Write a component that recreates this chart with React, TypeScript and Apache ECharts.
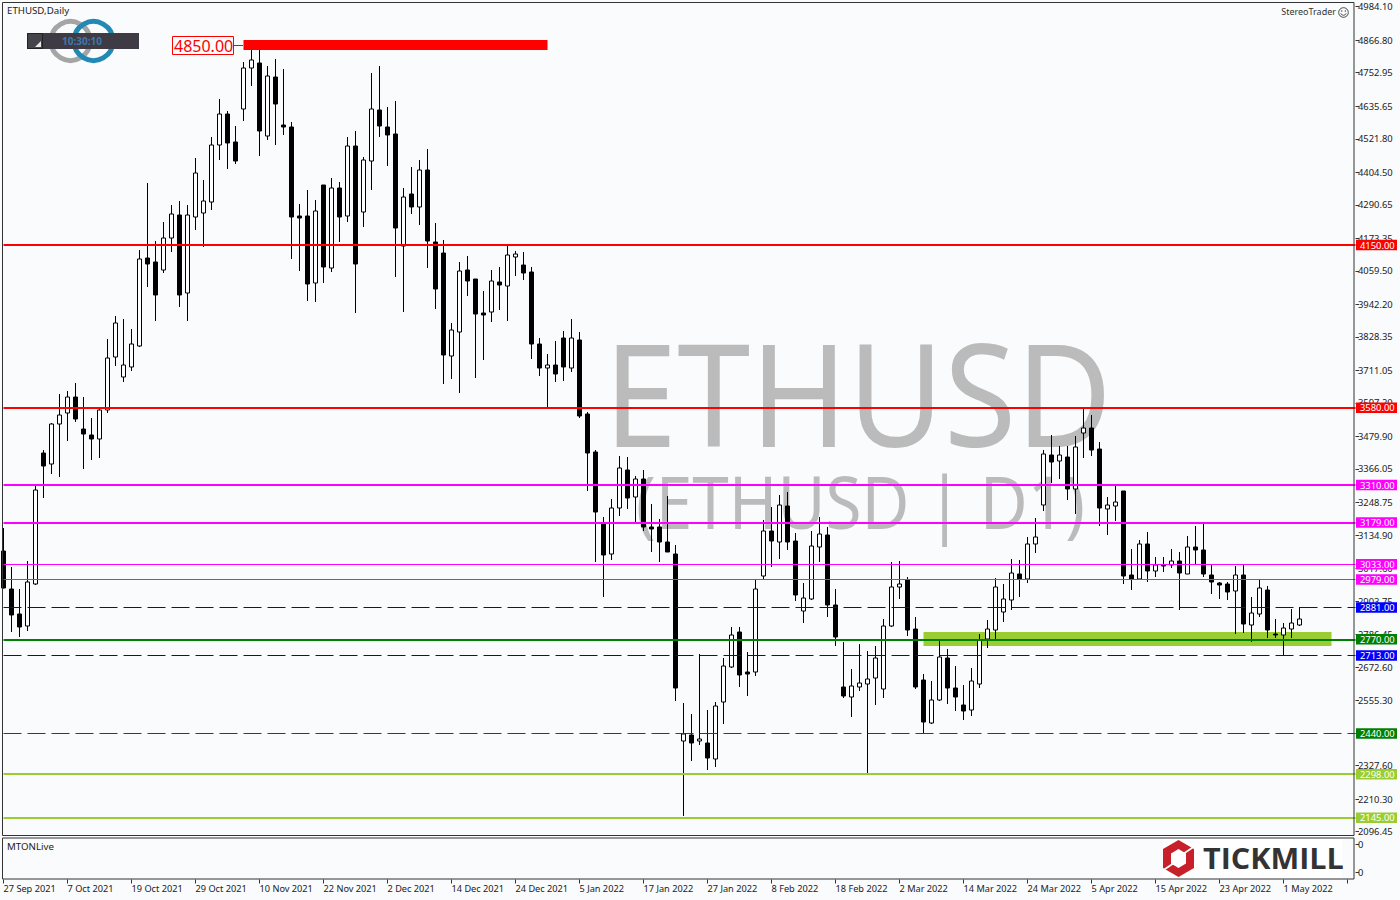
import React, { useEffect, useRef } from "react";
import * as echarts from "echarts";

const opens = [3079,2946,2858.5,2816.5,2963.5,3422,3383.5,3523.5,3562,3618,
3506,3485,3471,3572.5,3758,3688,3723,3796.5,4104.5,4090.5,
4062.5,4174.5,4255,3982,4248,4262,4300.5,4500,4608.5,4510.5,
4626,4769.5,4787,4531.5,4738,4570,4563,4251.5,4251.5,4017,
4360,4069.5,4349.5,4251.5,4496.5,4265.5,4444,4622.5,4563,4538.5,
4146.5,4328.5,4283,4412.5,4160.5,4122,3761.5,3845.5,4062.5,4031,
3912,3915.5,4020.5,4006.5,4108,4080,4055.5,3803.5,3719.5,3730,
3824.5,3719.5,3817.5,3558.5,3425.5,3177,3068.5,3229.5,3362.5,3268,
3331,3163,3163,3110.5,3068.5,2414,2435,2414,2407,2351,
2550.5,2673,2795.5,2655.5,2655.5,2991.5,3149,3110.5,3236.5,3114,
2869,2911,3093,3135,2890,2603,2568,2603,2613.5,2634.5,
2596,2816.5,2953,2977.5,2806,2627.5,2477,2557.5,2704.5,2599.5,
2540,2522.5,2613.5,2771,2802.5,2865.5,2907.5,2998.5,2981,3103.5,
3240,3415,3394,3408,3296,3492,3509.5,3436,3226,3236.5,
3289,2995,2981,3103.5,3009,3030,3030,3044,2998.5,3093,
3082.5,2995,2967,2963.5,2939,2995,2820,2858.5,2942.5,2788.5,
2785,2806,2820];

const closes = [2949.5,2855,2813,2970.5,3292.5,3376.5,3523.5,3555,3618,3541,
3488.5,3471,3572.5,3754.5,3877,3730,3803.5,4101,4083.5,3975,
4174.5,4258.5,3975,4255,4402,4304,4500,4608.5,4507,4444,
4769.5,4797.5,4549,4741.5,4643.5,4563,4248,4244.5,4013.5,4269,
4073,4349.5,4248,4496.5,4083.5,4447.5,4626,4566.5,4535,4209.5,
4318,4283,4412.5,4164,3996,3765,3852.5,4059,4024,3908.5,
3905,4024,4010,4115,4118.5,4052,3803.5,3719.5,3730,3698.5,
3723,3824.5,3551.5,3422,3215.5,3065,3229.5,3369.5,3264.5,3331,
3163,3156,3110.5,3075.5,2599.5,2438.5,2407,2421,2354.5,2536.5,
2676.5,2785,2645,2648.5,2946,3149,3114,3240,3110.5,2925,
2914.5,3096.5,3138.5,2890,2778,2571.5,2606.5,2617,2631,2704.5,
2816.5,2953,2963.5,2802.5,2603,2480.5,2557.5,2708,2599.5,2568,
2519,2624,2767.5,2806,2953,2911,3002,2981,3103.5,3128,
3418.5,3390.5,3415,3296,3443,3509.5,3432.5,3229.5,3240,3250.5,
2991.5,2981,3103.5,3009,3030,3026.5,3044,3002,3093,3082.5,
2998.5,2970.5,2960,2935.5,2995,2823.5,2862,2949.5,2802.5,2785,
2809.5,2827,2841];

const highs = [3159.5,3023,2946,3044,3306.5,3432.5,3527,3628.5,3639,3667,
3618,3544.5,3579.5,3821,3901.5,3891,3856,4132.5,4367,4164,
4230.5,4290,4304,4290,4454.5,4377.5,4528,4661,4619,4566.5,
4790.5,4832.5,4832.5,4776.5,4801,4766,4580.5,4293.5,4342.5,4307.5,
4360,4384.5,4370.5,4528,4549,4458,4752,4776.5,4633,4654,
4349.5,4423,4447.5,4486,4227,4167.5,3877,4090.5,4111.5,4031,
3989,4062.5,4073,4150,4129,4125.5,4073,3824.5,3768.5,3814,
3849,3891,3845.5,3565.5,3432.5,3198,3261,3411.5,3408,3341.5,
3362.5,3243.5,3191,3271.5,3100,2547,2508.5,2718.5,2522.5,2550.5,
2704.5,2813,2813,2725.5,2977.5,3187.5,3233,3275,3285.5,3142,
2967,3149,3198,3163,2946,2760,2666,2753,2729,2746.5,
2841,3040.5,3044,2988,2848,2648.5,2624,2767.5,2736,2676.5,
2610,2669.5,2788.5,2837.5,2984.5,2963.5,3051,3047.5,3128,3194.5,
3432.5,3485,3446.5,3446.5,3481.5,3576,3555,3460.5,3268,3306.5,
3289,3086,3117.5,3145.5,3058,3058,3086,3075.5,3131.5,3166.5,
3177,3030,2970.5,2970.5,3026.5,3030,2918,2977.5,2956.5,2841,
2827,2876,2883];

const lows = [2948,2795.5,2778,2799,2960,3264.5,3348.5,3338,3464,3530.5,
3366,3397.5,3404.5,3562,3726.5,3670.5,3709,3793,4003,3884,
4052,4125.5,3933,3884,4202.5,4143,4272.5,4447.5,4416,4433.5,
4584,4706.5,4461.5,4517.5,4500,4535,4101,4059,3954,3950.5,
4017,4055.5,4160.5,4230.5,3912,4213,4342.5,4528,4426.5,4038,
3915.5,4258.5,4220,4069.5,3926,3663.5,3681,3632,3971.5,3684.5,
3747.5,3880.5,3922.5,3884,4041.5,4027.5,3751,3691.5,3579.5,3670.5,
3674,3705.5,3544.5,3289,3040.5,2918,3047.5,3201.5,3226,3180.5,
3149,3075.5,3040.5,3075.5,2554,2151.5,2344,2400,2312.5,2323,
2473.5,2669.5,2603,2571.5,2641.5,2981,3023,3051,3082.5,2904,
2827,2907.5,3040.5,2848,2746.5,2564.5,2498,2589,2302,2540,
2564.5,2813,2911,2781.5,2596,2442,2473.5,2554,2543.5,2519,
2487.5,2501.5,2599.5,2739.5,2764,2830.5,2872.5,2918,2967,3072,
3219,3317,3331,3257.5,3208.5,3404.5,3411.5,3166.5,3135,3184,
2963.5,2942.5,2981,2970.5,2988,3005.5,3019.5,2872.5,2998.5,3033,
2988,2928.5,2911,2907.5,2788.5,2792,2760.5,2848,2774.5,2774.5,
2715,2774.5,2816.5];

const priceTicks = [4984.10,4866.80,4752.95,4635.65,4521.80,4404.50,4290.65,4173.35,4059.50,3942.20,3828.35,3711.05,3597.20,3479.90,3366.05,3248.75,3134.90,3017.60,2903.75,2786.45,2672.60,2555.30,2441.45,2327.60,2210.30,2096.45];

const dateTicks = ["27 Sep 2021","7 Oct 2021","19 Oct 2021","29 Oct 2021","10 Nov 2021","22 Nov 2021","2 Dec 2021","14 Dec 2021","24 Dec 2021","5 Jan 2022","17 Jan 2022","27 Jan 2022","8 Feb 2022","18 Feb 2022","2 Mar 2022","14 Mar 2022","24 Mar 2022","5 Apr 2022","15 Apr 2022","23 Apr 2022","1 May 2022"];

const FONT = '"Noto Sans", sans-serif';
const MAGENTA = "#ff00ff";
const LIME = "#9acd32";
const levels = [
  { v: 4150, c: "#ff0000", w: 2, d: "solid", t: "#ff0000" },
  { v: 3580, c: "#ff0000", w: 2, d: "solid", t: "#ff0000" },
  { v: 3310, c: MAGENTA, w: 2, d: "solid", t: MAGENTA },
  { v: 3179, c: MAGENTA, w: 2, d: "solid", t: MAGENTA },
  { v: 3033, c: MAGENTA, w: 1, d: "solid", t: MAGENTA },
  { v: 2979, c: MAGENTA, w: 1, d: "solid", t: MAGENTA },
  { v: 2881, c: "#0000e6", w: 1, d: [18, 6], t: "#0000ff" },
  { v: 2770, c: "#008000", w: 2, d: "solid", t: "#008000" },
  { v: 2713, c: "#0000e6", w: 1, d: [18, 6], t: "#0000ff" },
  { v: 2440, c: "#006400", w: 1, d: [18, 6], t: "#008000" },
  { v: 2298, c: LIME, w: 2, d: "solid", t: LIME },
  { v: 2145, c: LIME, w: 2, d: "solid", t: LIME },
];
const zones = [
  { x0: 30, x1: 68, top: 4867.5, bottom: 4832.5, color: "#ff0000" },
  { x0: 115, x1: 166, top: 2795.5, bottom: 2746.5, color: LIME },
];

const SLOT_COUNT = 170;
const categories = Array.from({ length: SLOT_COUNT }, (_, i) =>
  i % 8 === 0 ? dateTicks[i / 8] ?? "" : ""
);
const candles = opens.map((o, i) => [o, closes[i], lows[i], highs[i]]);

const text = (x: number, y: number, t: string, extra: any = {}, z = 12) => ({
  type: "text",
  x,
  y,
  z,
  silent: true,
  style: { text: t, font: `10px ${FONT}`, fill: "#222", textVerticalAlign: "middle", ...extra },
});

export default function App() {
  const ref = useRef<HTMLDivElement>(null);
  useEffect(() => {
    const chart = echarts.init(ref.current!, undefined, { renderer: "svg" });
    chart.setOption({
      animation: false,
      backgroundColor: "#f9fbfd",
      grid: [
        { left: 3.5, top: 2, width: 1352, height: 833 },
        { left: 3.5, top: 838, width: 1352, height: 41.5 },
      ],
      xAxis: [
        { type: "category", gridIndex: 0, data: categories, boundaryGap: false, axisLine: { show: false }, axisTick: { show: false }, axisLabel: { show: false }, splitLine: { show: false } },
        {
          type: "category", gridIndex: 1, data: categories, boundaryGap: false, position: "bottom",
          axisLine: { show: false },
          axisTick: { show: true, interval: 7, length: 4, lineStyle: { color: "#333" } },
          axisLabel: { show: true, interval: 7, align: "left", margin: 4, color: "#222", fontFamily: FONT, fontSize: 9.2 },
          splitLine: { show: false },
        },
      ],
      yAxis: [
        {
          type: "value", gridIndex: 0, position: "right", min: 2085, max: 5000.5, scale: true,
          splitLine: { show: false }, axisLine: { show: false },
          axisTick: { show: true, length: 3.5, customValues: priceTicks, lineStyle: { color: "#333" } },
          axisLabel: { show: true, margin: 2.5, customValues: priceTicks, color: "#222", fontFamily: FONT, fontSize: 9.4, formatter: (v: number) => v.toFixed(2) },
        },
        {
          type: "value", gridIndex: 1, position: "right", min: 0, max: 41.5,
          splitLine: { show: false }, axisLine: { show: false },
          axisTick: { show: true, length: 3.5, customValues: [35, 7.5], lineStyle: { color: "#333" } },
          axisLabel: { show: true, margin: 2.5, customValues: [35, 7.5], color: "#222", fontFamily: FONT, fontSize: 9.4, formatter: () => "0" },
        },
      ],
      series: [
        {
          type: "candlestick",
          xAxisIndex: 0,
          yAxisIndex: 0,
          data: candles,
          barWidth: 5,
          itemStyle: { color: "#ffffff", color0: "#000000", borderColor: "#000000", borderColor0: "#000000", borderWidth: 1 },
          markArea: {
            silent: true,
            data: zones.map((z) => [
              { xAxis: z.x0, yAxis: z.top, itemStyle: { color: z.color, opacity: 1 } },
              { xAxis: z.x1, yAxis: z.bottom },
            ]),
          },
          markLine: {
            silent: true,
            symbol: "none",
            precision: 2,
            data: levels.map((l) => ({
              yAxis: l.v,
              lineStyle: { color: l.c, width: l.w, type: l.d, opacity: 1 },
              label: {
                show: true,
                position: "end",
                distance: 0.5,
                formatter: () => l.v.toFixed(2),
                backgroundColor: l.t,
                color: "#ffffff",
                fontFamily: FONT,
                fontSize: 9.4,
                width: 35,
                height: 10.5,
                lineHeight: 10.5,
                padding: [0, 2, 0, 4],
              },
            })),
          },
        },
      ],
      graphic: {
        elements: [
          // watermark, behind the candles
          { type: "text", x: 604, y: 320, z: 0, scaleX: 0.92, silent: true, style: { text: "ETHUSD", font: `143px ${FONT}`, fill: "#bbbbbb" } },
          { type: "text", x: 636, y: 464, z: 0, scaleX: 0.9, silent: true, style: { text: "(ETHUSD | D1)", font: `73px ${FONT}`, fill: "#bbbbbb" } },

          // panel frames
          { type: "rect", z: 9, silent: true, shape: { x: 2.5, y: 2.5, width: 1351.5, height: 833 }, style: { fill: "none", stroke: "#333", lineWidth: 1 } },
          { type: "rect", z: 9, silent: true, shape: { x: 2.5, y: 838, width: 1351.5, height: 41 }, style: { fill: "none", stroke: "#333", lineWidth: 1 } },

          text(7, 10.5, "ETHUSD,Daily", { font: `9.7px ${FONT}` }),
          text(7, 846, "MTONLive", { font: `9.7px ${FONT}` }),
          text(1336, 11.5, "StereoTrader", { font: `9px ${FONT}`, textAlign: "right", fill: "#333" }),

          // smiley
          { type: "circle", z: 12, silent: true, shape: { cx: 1343.5, cy: 12.5, r: 4.8 }, style: { fill: "none", stroke: "#444", lineWidth: 1 } },
          { type: "circle", z: 12, silent: true, shape: { cx: 1341.7, cy: 11, r: 0.7 }, style: { fill: "#444" } },
          { type: "circle", z: 12, silent: true, shape: { cx: 1345.3, cy: 11, r: 0.7 }, style: { fill: "#444" } },
          { type: "arc", z: 12, silent: true, shape: { cx: 1343.5, cy: 12.5, r: 2.8, startAngle: 0.3, endAngle: Math.PI - 0.3 }, style: { fill: "none", stroke: "#444", lineWidth: 0.9 } },

          // timer widget
          { type: "circle", z: 10, silent: true, shape: { cx: 70.5, cy: 41, r: 19.5 }, style: { fill: "none", stroke: "#a5a5a5", lineWidth: 5 } },
          { type: "circle", z: 10, silent: true, shape: { cx: 93.5, cy: 41, r: 19.5 }, style: { fill: "none", stroke: "#2289b4", lineWidth: 5 } },
          { type: "rect", z: 11, silent: true, shape: { x: 27, y: 33, width: 112, height: 16 }, style: { fill: "#3e3b44" } },
          { type: "rect", z: 11, silent: true, shape: { x: 27.5, y: 33.5, width: 15, height: 15 }, style: { fill: "#46444b", stroke: "#222", lineWidth: 1 } },
          { type: "polygon", z: 12, silent: true, shape: { points: [[35, 47], [41, 47], [41, 41]] }, style: { fill: "#e8e8e8" } },
          text(62, 41, "10:30:10", { font: `bold 10px ${FONT}`, fill: "#3f78ae" }),

          // 4850 tag
          { type: "rect", z: 12, silent: true, shape: { x: 172.5, y: 36.5, width: 61, height: 18 }, style: { fill: "#f9fbfd", stroke: "#ff0000", lineWidth: 1 } },
          text(174, 46, "4850.00", { font: `16px ${FONT}`, fill: "#ff0000" }),
          { type: "line", z: 12, silent: true, shape: { x1: 234, y1: 45.5, x2: 243, y2: 45.5 }, style: { stroke: "#ff0000", lineWidth: 1 } },

          // tickmill logo
          { type: "rect", z: 12, silent: true, shape: { x: 1163, y: 839, width: 179, height: 39 }, style: { fill: "#ffffff" } },
          { type: "polygon", z: 13, silent: true, shape: { points: [[1178.5, 840], [1194, 849], [1194, 868], [1178.5, 877], [1163, 868], [1163, 849]] }, style: { fill: "#c8202a" } },
          { type: "polygon", z: 14, silent: true, shape: { points: [[1178.5, 849], [1186, 853.5], [1186, 863.5], [1178.5, 868], [1171, 863.5], [1171, 853.5]] }, style: { fill: "#ffffff" } },
          { type: "line", z: 14, silent: true, shape: { x1: 1183, y1: 854, x2: 1195, y2: 846 }, style: { stroke: "#ffffff", lineWidth: 1.6 } },
          { type: "line", z: 14, silent: true, shape: { x1: 1174, y1: 863, x2: 1162, y2: 871 }, style: { stroke: "#ffffff", lineWidth: 1.6 } },
          { type: "text", z: 14, x: 1203, y: 844, scaleX: 1.09, silent: true, style: { text: "TICKMILL", font: `bold 28px "Open Sans", sans-serif`, fill: "#333333" } },
        ],
      },
    });
    return () => chart.dispose();
  }, []);
  return <div ref={ref} style={{ position: "fixed", left: 0, top: 0, width: 1400, height: 900 }} />;
}
